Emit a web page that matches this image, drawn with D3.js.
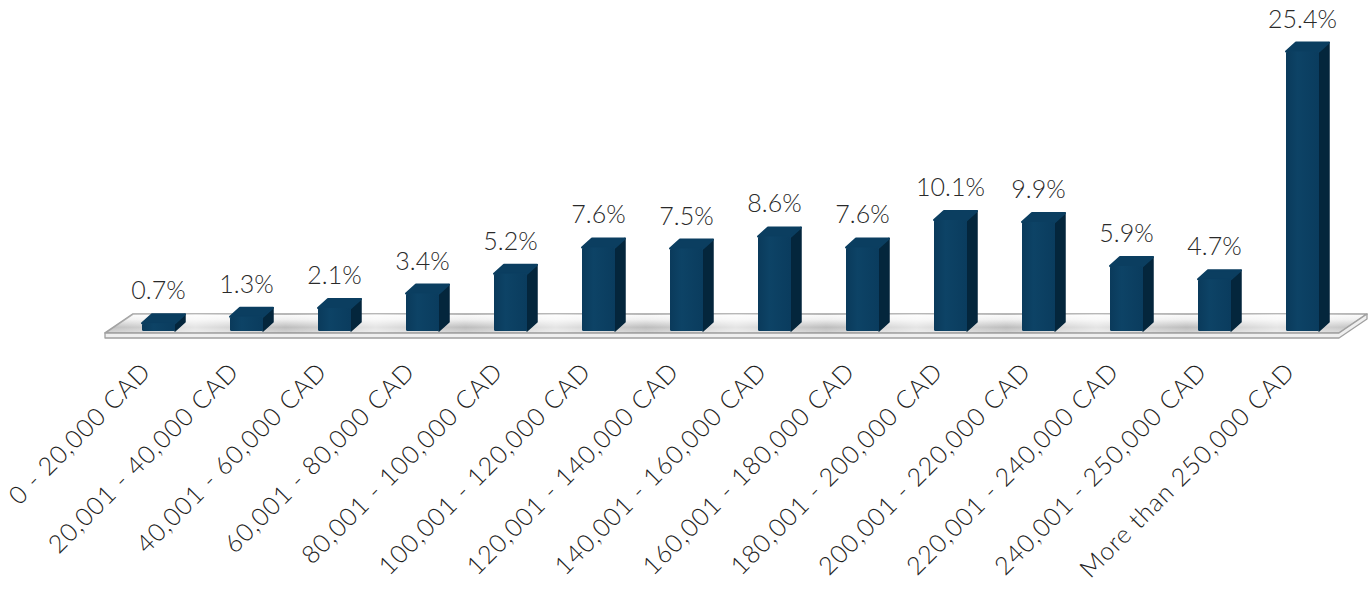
<!DOCTYPE html>
<html>
<head>
<meta charset="utf-8">
<script src="https://cdn.jsdelivr.net/npm/d3@7"></script>
<style>
  html, body { margin: 0; padding: 0; background: #ffffff; }
  svg { display: block; }
  text { font-family: Lato, "Open Sans", sans-serif; }
</style>
</head>
<body>
<svg id="chart" width="1371" height="592"></svg>
<script>
// Household income brackets and the share of respondents in each
const categories = [
  "0 - 20,000 CAD",
  "20,001 - 40,000 CAD",
  "40,001 - 60,000 CAD",
  "60,001 - 80,000 CAD",
  "80,001 - 100,000 CAD",
  "100,001 - 120,000 CAD",
  "120,001 - 140,000 CAD",
  "140,001 - 160,000 CAD",
  "160,001 - 180,000 CAD",
  "180,001 - 200,000 CAD",
  "200,001 - 220,000 CAD",
  "220,001 - 240,000 CAD",
  "240,001 - 250,000 CAD",
  "More than 250,000 CAD"
];
const shares = [0.7, 1.3, 2.1, 3.4, 5.2, 7.6, 7.5, 8.6, 7.6, 10.1, 9.9, 5.9, 4.7, 25.4];
const valueLabels = ["0.7%", "1.3%", "2.1%", "3.4%", "5.2%", "7.6%", "7.5%", "8.6%", "7.6%", "10.1%", "9.9%", "5.9%", "4.7%", "25.4%"];

const svg = d3.select("#chart");

// Layout
const baseY = 331;             // front bottom edge of every bar
const depthX = 10, depthY = 9; // oblique depth of the bars
const floor = { backY: 314, frontY: 333, thick: 5, frontLeft: 105, frontRight: 1339, skew: 28 };

const x = d3.scaleBand()
  .domain(categories)
  .range([114.5, 1346.5])
  .paddingInner(0.625)
  .paddingOuter(0.3125);

const y = d3.scaleLinear()
  .domain([0, 30])
  .range([baseY, baseY - 330]);

const defs = svg.append("defs");

const floorTop = defs.append("linearGradient")
  .attr("id", "floorTop").attr("x1", 0).attr("y1", 0).attr("x2", 0).attr("y2", 1);
floorTop.append("stop").attr("offset", "0%").attr("stop-color", "#fdfdfd");
floorTop.append("stop").attr("offset", "30%").attr("stop-color", "#eeeeee");
floorTop.append("stop").attr("offset", "70%").attr("stop-color", "#bdbdbd");
floorTop.append("stop").attr("offset", "100%").attr("stop-color", "#d6d6d6");

const floorSheen = defs.append("linearGradient")
  .attr("id", "floorSheen").attr("x1", 0).attr("y1", 0).attr("x2", 1).attr("y2", 0);
d3.range(0, 15).forEach(i => {
  floorSheen.append("stop").attr("offset", (i / 14 * 100) + "%")
    .attr("stop-color", "#ffffff").attr("stop-opacity", i % 2 ? 0.6 : 0);
});

const frontGrad = defs.append("linearGradient")
  .attr("id", "barFront").attr("x1", 0).attr("y1", 0).attr("x2", 1).attr("y2", 0);
frontGrad.append("stop").attr("offset", "0%").attr("stop-color", "#0a3a5b");
frontGrad.append("stop").attr("offset", "35%").attr("stop-color", "#0d4366");
frontGrad.append("stop").attr("offset", "100%").attr("stop-color", "#0a3c5e");

// Floor
const fl = floor;
const floorG = svg.append("g").attr("class", "floor");
const topFace = `M${fl.frontLeft + fl.skew},${fl.backY} L${fl.frontRight + fl.skew},${fl.backY} L${fl.frontRight},${fl.frontY} L${fl.frontLeft},${fl.frontY} Z`;
floorG.append("path")
  .attr("d", topFace)
  .attr("fill", "url(#floorTop)")
  .attr("stroke", "#a0a0a0").attr("stroke-width", 1.6).attr("stroke-linejoin", "round");
floorG.append("path")
  .attr("d", topFace)
  .attr("fill", "url(#floorSheen)");
floorG.append("path")
  .attr("d", `M${fl.frontLeft},${fl.frontY} L${fl.frontRight},${fl.frontY} L${fl.frontRight + fl.skew},${fl.backY} L${fl.frontRight + fl.skew},${fl.backY + fl.thick} L${fl.frontRight},${fl.frontY + fl.thick} L${fl.frontLeft},${fl.frontY + fl.thick} Z`)
  .attr("fill", "#efefef")
  .attr("stroke", "#a0a0a0").attr("stroke-width", 1.3).attr("stroke-linejoin", "round");

// Bars
const bars = svg.append("g").attr("class", "bars")
  .selectAll("g").data(shares).join("g");

bars.append("path") // side face
  .attr("d", (d, i) => {
    const x0 = x(categories[i]) + x.bandwidth(), t = y(d);
    return `M${x0},${t} L${x0 + depthX},${t - depthY} L${x0 + depthX},${baseY - depthY} L${x0},${baseY} Z`;
  })
  .attr("fill", "#04263c").attr("stroke", "#04263c").attr("stroke-width", 1.5).attr("stroke-linejoin", "round");

bars.append("path") // top face
  .attr("d", (d, i) => {
    const x0 = x(categories[i]), w = x.bandwidth(), t = y(d);
    return `M${x0},${t} L${x0 + depthX},${t - depthY} L${x0 + w + depthX},${t - depthY} L${x0 + w},${t} Z`;
  })
  .attr("fill", "#0b3e60").attr("stroke", "#0b3e60").attr("stroke-width", 2).attr("stroke-linejoin", "round");

bars.append("rect") // front face
  .attr("x", (d, i) => x(categories[i]))
  .attr("y", d => y(d))
  .attr("width", x.bandwidth())
  .attr("height", d => baseY - y(d))
  .attr("rx", 1.5)
  .attr("fill", "url(#barFront)");

// Value labels
svg.append("g").attr("class", "values")
  .selectAll("text").data(shares).join("text")
  .attr("x", (d, i) => x(categories[i]) + x.bandwidth() / 2)
  .attr("y", d => y(d) - 24)
  .attr("text-anchor", "middle")
  .attr("font-size", 25)
  .attr("font-weight", 300)
  .attr("fill", "#2a2a2a")
  .text((d, i) => valueLabels[i]);

// Category axis labels
const xAxis = d3.axisBottom(x).tickSize(0).tickPadding(0);
const axisG = svg.append("g").attr("class", "x-axis")
  .attr("transform", `translate(-6,${373})`)
  .call(xAxis);
axisG.select(".domain").remove();
axisG.selectAll(".tick text")
  .attr("transform", "rotate(-45)")
  .attr("text-anchor", "end")
  .attr("dy", 0)
  .attr("y", 0)
  .attr("x", 0)
  .attr("font-size", 25)
  .attr("letter-spacing", 1)
  .attr("font-family", "Lato, 'Open Sans', sans-serif")
  .attr("font-weight", 300)
  .attr("fill", "#1e1e1e");
</script>
</body>
</html>
